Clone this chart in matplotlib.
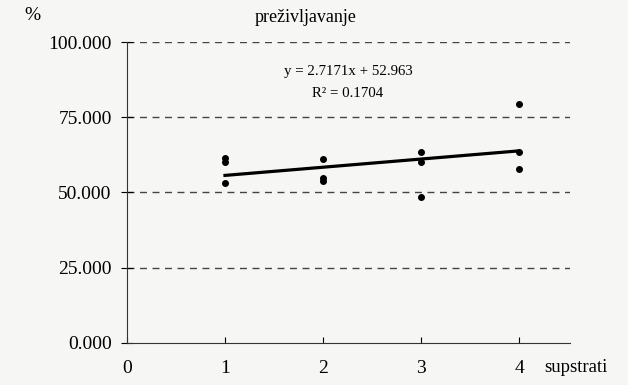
import numpy as np
import matplotlib.pyplot as plt

# data
x_vals = [1, 1, 1, 2, 2, 2, 3, 3, 3, 4, 4, 4]
y_vals = [61.4, 60.0, 53.1, 61.0, 54.7, 53.8, 63.4, 60.0, 48.6, 79.5, 63.5, 57.8]
slope = 2.7171
intercept = 52.963
r2 = 0.1704
y_ticks = [0, 25, 50, 75, 100]
x_ticks = [0, 1, 2, 3, 4]

plt.rcParams['font.family'] = ['Liberation Serif', 'DejaVu Serif']

fig = plt.figure(figsize=(6.28, 3.85), dpi=100)
fig.patch.set_facecolor('#f6f6f4')
ax = fig.add_axes([0.2022, 0.1091, 0.7054, 0.7818])
ax.set_facecolor('#f6f6f4')

# dashed grid lines
for yv in y_ticks[1:]:
    ax.axhline(yv, color='#444444', lw=1.0, ls=(0, (5, 4)), zorder=1)

ax.scatter(x_vals, y_vals, s=16, color='black', zorder=3)

xl = np.array([1, 4])
ax.plot(xl, slope * xl + intercept, color='black', lw=2.3, zorder=2)

ax.set_xlim(0, 4.52)
ax.set_ylim(0, 100)
ax.set_xticks(x_ticks)
ax.set_yticks(y_ticks)
ax.set_yticklabels([f"{v:.3f}" for v in y_ticks], fontsize=14)
ax.set_xticklabels([str(v) for v in x_ticks], fontsize=14)
ax.tick_params(axis='y', direction='inout', length=8, width=0.8, pad=7)
ax.tick_params(axis='x', direction='in', length=4, width=0.8, pad=12)

for s in ['top', 'right']:
    ax.spines[s].set_visible(False)
ax.spines['left'].set_color('#333333')
ax.spines['bottom'].set_color('#333333')

fig.text(0.051, 0.961, '%', fontsize=14, ha='center', va='center')
fig.text(0.487, 0.955, 'preživljavanje', fontsize=13, ha='center', va='center')
fig.text(0.554, 0.813, f'y = {slope}x + {intercept}', fontsize=10.7, ha='center', va='center')
fig.text(0.554, 0.756, f'R² = {r2}', fontsize=10.7, ha='center', va='center')
fig.text(0.917, 0.045, 'supstrati', fontsize=13.5, ha='center', va='center')

fig.savefig('out.png', dpi=100, facecolor=fig.get_facecolor())
